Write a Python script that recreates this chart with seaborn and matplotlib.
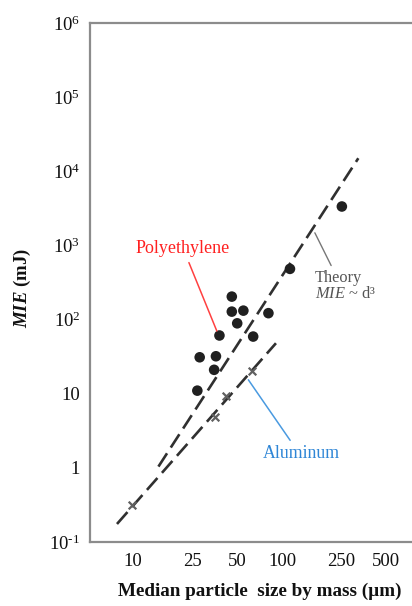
import matplotlib
matplotlib.use("Agg")
import matplotlib.pyplot as plt
import seaborn as sns
import pandas as pd

# --- Data ---
pe_size = [27, 28, 35, 36, 38, 46, 46, 50, 55, 64, 81, 113, 252]          # um
pe_mie = [11, 31, 21, 32, 61, 204, 128, 89, 132, 59, 122, 483, 3350]      # mJ

al_size = [9.8, 35.5, 42, 62.6]
al_mie = [0.32, 4.9, 9.2, 20.1]

theory_pe_size = [14.8, 325]
theory_pe_mie = [1.04, 15000]
theory_al_size = [7.8, 91]
theory_al_mie = [0.175, 48]

x_ticks = [10, 25, 50, 100, 250, 500]
y_ticks = [0.1, 1, 10, 100, 1e3, 1e4, 1e5, 1e6]
y_tick_labels = [r'$\mathregular{10^{\text{-}1}}$', '1', '10', r'$\mathregular{10^{2}}$',
                 r'$\mathregular{10^{3}}$', r'$\mathregular{10^{4}}$',
                 r'$\mathregular{10^{5}}$', r'$\mathregular{10^{6}}$']

# --- Style ---
sns.set_theme(style="white")
plt.rcParams['font.family'] = ['Liberation Serif', 'DejaVu Serif']
plt.rcParams['mathtext.fontset'] = 'custom'
plt.rcParams['mathtext.rm'] = 'Liberation Serif'
plt.rcParams['mathtext.it'] = 'Liberation Serif:italic'
plt.rcParams['mathtext.bf'] = 'Liberation Serif:italic:bold'

spine_col = '#8c8c8c'

fig = plt.figure(figsize=(4.12, 6.06), dpi=100)
ax = fig.add_axes([90 / 412, 1 - 542 / 606, 322 / 412, 519 / 606])
ax.set_xscale('log')
ax.set_yscale('log')

df_pe = pd.DataFrame({'size': pe_size, 'mie': pe_mie})
df_al = pd.DataFrame({'size': al_size, 'mie': al_mie})
df_tpe = pd.DataFrame({'size': theory_pe_size, 'mie': theory_pe_mie})
df_tal = pd.DataFrame({'size': theory_al_size, 'mie': theory_al_mie})

# theory lines (long dashes)
for d in (df_tpe, df_tal):
    sns.lineplot(data=d, x='size', y='mie', ax=ax, color='#303030',
                 linewidth=1.9, dashes=False, zorder=2)
for line in ax.get_lines():
    line.set_dashes((6, 2.6))

sns.scatterplot(data=df_pe, x='size', y='mie', ax=ax, s=58, color='#202020',
                edgecolor='none', zorder=3)
sns.scatterplot(data=df_al, x='size', y='mie', ax=ax, marker='x', s=30,
                color='#606060', linewidth=1.6, zorder=3)

ax.set_xlim(5.14, 745)
ax.set_ylim(0.1, 1e6)

ax.set_xticks(x_ticks)
ax.set_xticklabels([str(t) for t in x_ticks])
ax.set_yticks(y_ticks)
ax.set_yticklabels(y_tick_labels)
ax.minorticks_off()
ax.tick_params(axis='both', which='major', direction='out', length=5, width=1.5,
               color=spine_col, labelsize=13.5, labelcolor='#111111', pad=2)
ax.tick_params(axis='x', pad=3)

for side in ('left', 'bottom', 'top'):
    ax.spines[side].set_color(spine_col)
    ax.spines[side].set_linewidth(1.6)
ax.spines['right'].set_visible(False)

ax.set_xlabel('Median particle  size by mass (\u00b5m)', fontsize=13.8,
              fontweight='bold', color='#111111')
ax.xaxis.set_label_coords(0.528, -0.078)
ax.set_ylabel(r'$\mathbf{MIE}$ (mJ)', fontsize=13.5, fontweight='bold',
              color='#111111')
ax.yaxis.set_label_coords(-0.178, 0.49)

# --- Annotations ---
ax.annotate('Polyethylene', xy=(36.5, 70), xycoords='data',
            xytext=(0.289, 0.566), textcoords='axes fraction',
            ha='center', va='center', fontsize=13, color='#ff2020',
            arrowprops=dict(arrowstyle='-', color='#ff4040', lw=1.1,
                            shrinkA=2, shrinkB=0))
ax.annotate('Theory\n$MIE$ ~ d\u00b3', xy=(166, 1480), xycoords='data',
            xytext=(0.699, 0.524), textcoords='axes fraction',
            ha='left', va='top', fontsize=11.8, color='#555555',
            linespacing=1.0,
            arrowprops=dict(arrowstyle='-', color='#777777', lw=1.0,
                            relpos=(0.3, 1.0), shrinkA=1, shrinkB=0))
ax.annotate('Aluminum', xy=(59.4, 15.4), xycoords='data',
            xytext=(0.655, 0.171), textcoords='axes fraction',
            ha='center', va='center', fontsize=12.8, color='#2f86d6',
            arrowprops=dict(arrowstyle='-', color='#4a9ae0', lw=1.1,
                            relpos=(0.4, 1.0), shrinkA=1, shrinkB=0))

fig.savefig('out.png', dpi=100)
